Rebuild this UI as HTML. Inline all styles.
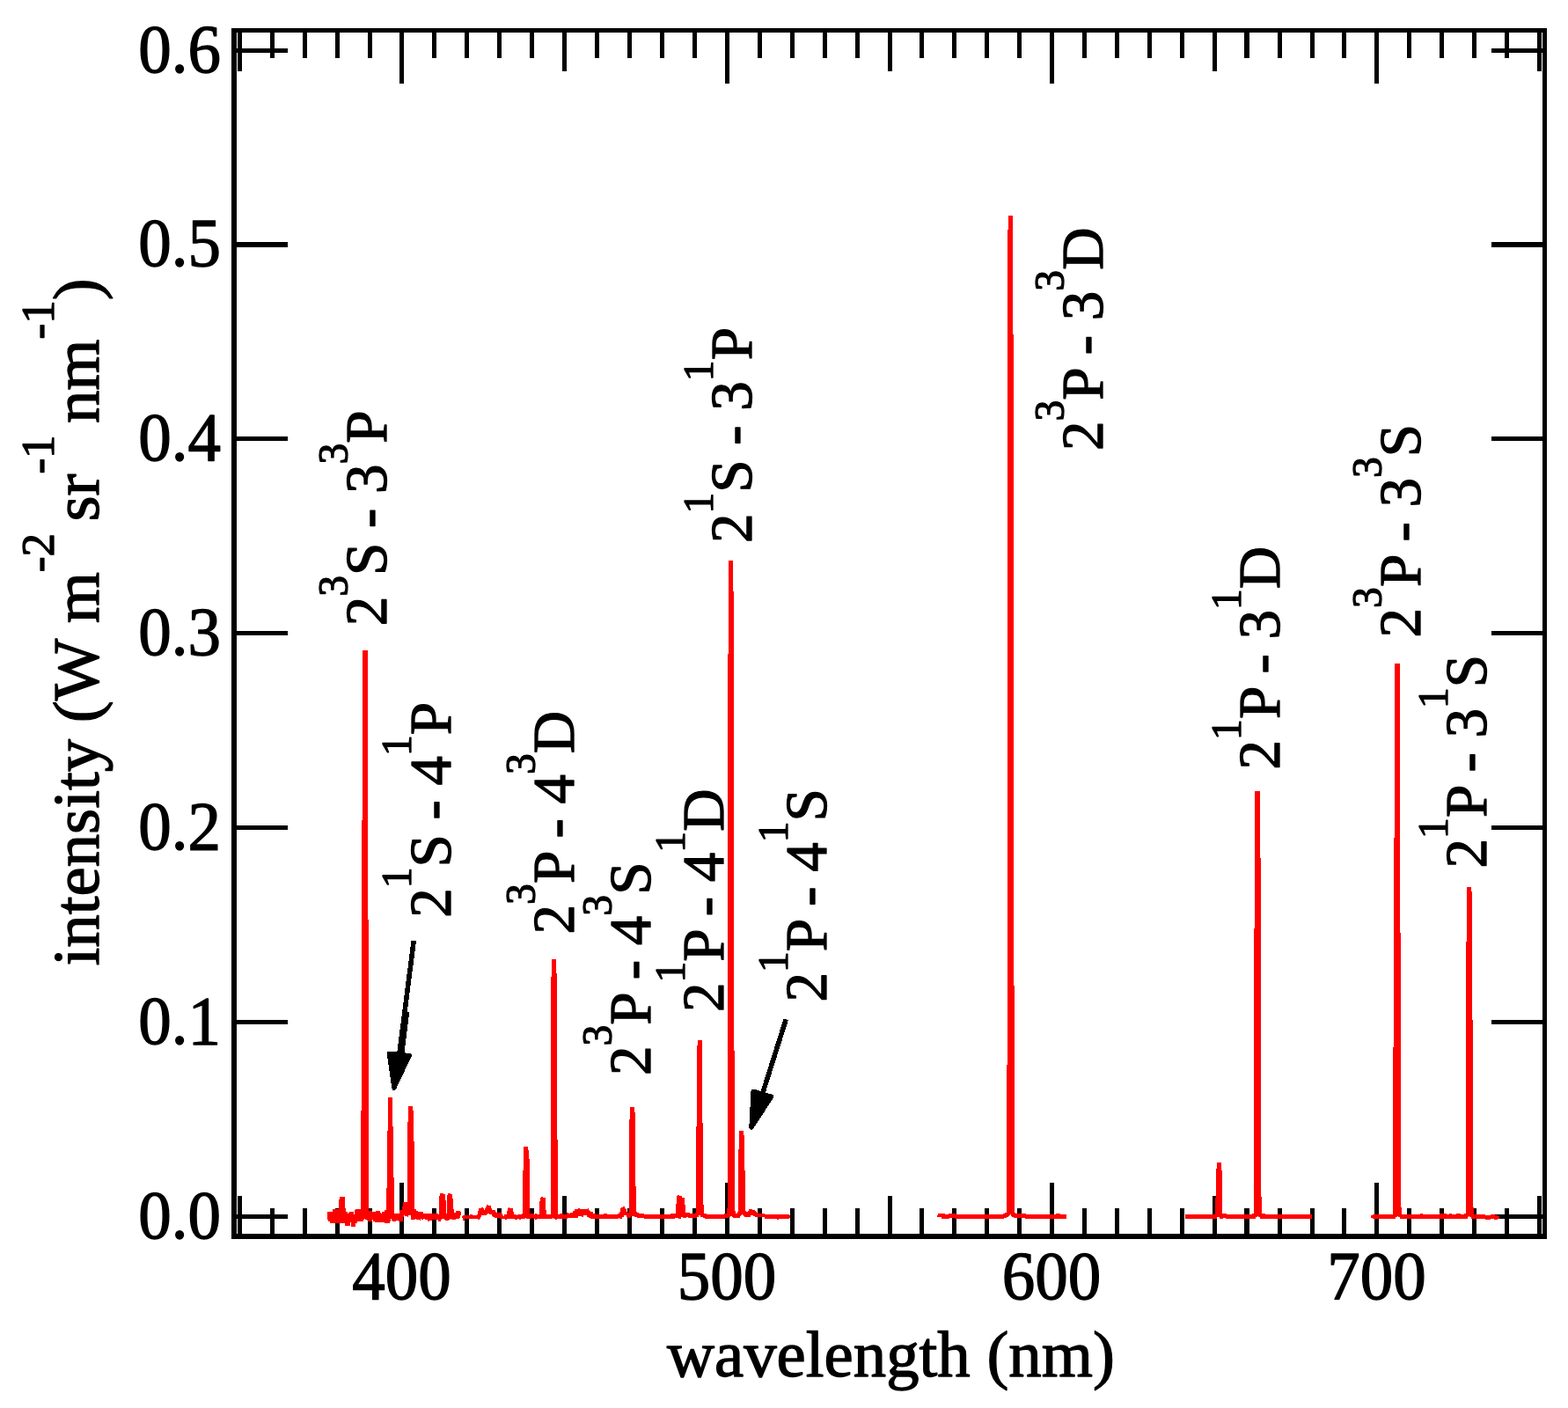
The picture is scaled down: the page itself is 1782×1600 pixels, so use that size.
<!DOCTYPE html>
<html lang="en">
<head>
<meta charset="utf-8">
<title>He I emission spectrum</title>
<style>
html,body{margin:0;padding:0;background:#fff;}
svg{display:block;}
text{font-family:"Liberation Serif", serif;fill:#000;stroke:#000;stroke-width:1.3px;stroke-linejoin:round;}
</style>
</head>
<body>
<svg width="1782" height="1600" viewBox="0 0 1782 1600">
<rect x="0" y="0" width="1782" height="1600" fill="#fff"/>
<g fill="#000" shape-rendering="crispEdges">
<rect x="263" y="32" width="6" height="1376"/>
<rect x="1753" y="32" width="5" height="1376"/>
<rect x="263" y="32" width="1495" height="5"/>
<rect x="263" y="1402" width="1495" height="6"/>
<rect x="270" y="34" width="5" height="47"/>
<rect x="270" y="1359" width="5" height="46"/>
<rect x="307" y="34" width="5" height="32"/>
<rect x="307" y="1373" width="5" height="32"/>
<rect x="344" y="34" width="5" height="32"/>
<rect x="344" y="1373" width="5" height="32"/>
<rect x="381" y="34" width="5" height="32"/>
<rect x="381" y="1373" width="5" height="32"/>
<rect x="418" y="34" width="5" height="32"/>
<rect x="418" y="1373" width="5" height="32"/>
<rect x="454" y="34" width="5" height="61"/>
<rect x="454" y="1344" width="5" height="61"/>
<rect x="491" y="34" width="5" height="32"/>
<rect x="491" y="1373" width="5" height="32"/>
<rect x="528" y="34" width="5" height="32"/>
<rect x="528" y="1373" width="5" height="32"/>
<rect x="565" y="34" width="5" height="32"/>
<rect x="565" y="1373" width="5" height="32"/>
<rect x="602" y="34" width="5" height="32"/>
<rect x="602" y="1373" width="5" height="32"/>
<rect x="639" y="34" width="5" height="47"/>
<rect x="639" y="1359" width="5" height="46"/>
<rect x="676" y="34" width="5" height="32"/>
<rect x="676" y="1373" width="5" height="32"/>
<rect x="713" y="34" width="5" height="32"/>
<rect x="713" y="1373" width="5" height="32"/>
<rect x="750" y="34" width="5" height="32"/>
<rect x="750" y="1373" width="5" height="32"/>
<rect x="787" y="34" width="5" height="32"/>
<rect x="787" y="1373" width="5" height="32"/>
<rect x="824" y="34" width="5" height="61"/>
<rect x="824" y="1344" width="5" height="61"/>
<rect x="861" y="34" width="5" height="32"/>
<rect x="861" y="1373" width="5" height="32"/>
<rect x="898" y="34" width="5" height="32"/>
<rect x="898" y="1373" width="5" height="32"/>
<rect x="935" y="34" width="5" height="32"/>
<rect x="935" y="1373" width="5" height="32"/>
<rect x="972" y="34" width="5" height="32"/>
<rect x="972" y="1373" width="5" height="32"/>
<rect x="1009" y="34" width="5" height="47"/>
<rect x="1009" y="1359" width="5" height="46"/>
<rect x="1045" y="34" width="5" height="32"/>
<rect x="1045" y="1373" width="5" height="32"/>
<rect x="1082" y="34" width="5" height="32"/>
<rect x="1082" y="1373" width="5" height="32"/>
<rect x="1119" y="34" width="5" height="32"/>
<rect x="1119" y="1373" width="5" height="32"/>
<rect x="1156" y="34" width="5" height="32"/>
<rect x="1156" y="1373" width="5" height="32"/>
<rect x="1193" y="34" width="5" height="61"/>
<rect x="1193" y="1344" width="5" height="61"/>
<rect x="1230" y="34" width="5" height="32"/>
<rect x="1230" y="1373" width="5" height="32"/>
<rect x="1267" y="34" width="5" height="32"/>
<rect x="1267" y="1373" width="5" height="32"/>
<rect x="1304" y="34" width="5" height="32"/>
<rect x="1304" y="1373" width="5" height="32"/>
<rect x="1341" y="34" width="5" height="32"/>
<rect x="1341" y="1373" width="5" height="32"/>
<rect x="1378" y="34" width="5" height="47"/>
<rect x="1378" y="1359" width="5" height="46"/>
<rect x="1414" y="34" width="6" height="32"/>
<rect x="1414" y="1373" width="6" height="32"/>
<rect x="1452" y="34" width="5" height="32"/>
<rect x="1452" y="1373" width="5" height="32"/>
<rect x="1489" y="34" width="5" height="32"/>
<rect x="1489" y="1373" width="5" height="32"/>
<rect x="1525" y="34" width="5" height="32"/>
<rect x="1525" y="1373" width="5" height="32"/>
<rect x="1562" y="34" width="5" height="61"/>
<rect x="1562" y="1344" width="5" height="61"/>
<rect x="1599" y="34" width="5" height="32"/>
<rect x="1599" y="1373" width="5" height="32"/>
<rect x="1636" y="34" width="5" height="32"/>
<rect x="1636" y="1373" width="5" height="32"/>
<rect x="1673" y="34" width="5" height="32"/>
<rect x="1673" y="1373" width="5" height="32"/>
<rect x="1710" y="34" width="5" height="32"/>
<rect x="1710" y="1373" width="5" height="32"/>
<rect x="1747" y="34" width="5" height="47"/>
<rect x="1747" y="1359" width="5" height="46"/>
<rect x="266" y="1380" width="61" height="5"/>
<rect x="1695" y="1380" width="61" height="5"/>
<rect x="266" y="1159" width="61" height="5"/>
<rect x="1695" y="1159" width="61" height="5"/>
<rect x="266" y="938" width="61" height="5"/>
<rect x="1695" y="938" width="61" height="5"/>
<rect x="266" y="717" width="61" height="5"/>
<rect x="1695" y="717" width="61" height="5"/>
<rect x="266" y="496" width="61" height="5"/>
<rect x="1695" y="496" width="61" height="5"/>
<rect x="266" y="275" width="61" height="6"/>
<rect x="1695" y="275" width="61" height="6"/>
<rect x="266" y="55" width="61" height="5"/>
<rect x="1695" y="55" width="61" height="5"/>
</g>
<g font-size="75.0">
<text transform="translate(251.0,1407.1) scale(1,1.03)" text-anchor="end">0.0</text>
<text transform="translate(251.0,1186.1) scale(1,1.03)" text-anchor="end">0.1</text>
<text transform="translate(251.0,965.1) scale(1,1.03)" text-anchor="end">0.2</text>
<text transform="translate(251.0,744.1) scale(1,1.03)" text-anchor="end">0.3</text>
<text transform="translate(251.0,523.1) scale(1,1.03)" text-anchor="end">0.4</text>
<text transform="translate(251.0,302.1) scale(1,1.03)" text-anchor="end">0.5</text>
<text transform="translate(251.0,82.1) scale(1,1.03)" text-anchor="end">0.6</text>
<text transform="translate(456.6,1476.2) scale(1,1.03)" text-anchor="middle">400</text>
<text transform="translate(825.9,1476.2) scale(1,1.03)" text-anchor="middle">500</text>
<text transform="translate(1195.1,1476.2) scale(1,1.03)" text-anchor="middle">600</text>
<text transform="translate(1564.4,1476.2) scale(1,1.03)" text-anchor="middle">700</text>
<text x="1012.4" y="1563.5" font-size="74.8" text-anchor="middle">wavelength (nm)</text>
<text font-size="74.8" transform="translate(111.5,1097.5) rotate(-90)">intensity (W m<tspan font-size="53.11" dy="-50.5">-2 </tspan><tspan dy="50.5">sr</tspan><tspan font-size="53.11" dy="-50.5">-1 </tspan><tspan dy="50.5">nm</tspan><tspan font-size="53.11" dy="-50.5">-1</tspan><tspan dy="50.5">)</tspan></text>
</g>
<g fill="#f00" stroke="none" shape-rendering="crispEdges">
<path d="M372 1377H378V1374H385V1363H386V1360H392V1373H393V1377H395V1379H396V1378H397V1377H402V1380H403V1375H404V1374H410V1262H411V932H412V739H418V1045H419V1376H423V1377H427V1376H432V1378H433V1379H434V1377H437V1375H439V1350H440V1285H441V1247H446V1280H447V1338H448V1379H454V1375H457V1371H458V1366H463V1275H464V1257H469V1262H470V1297H471V1374H473V1376H475V1377H481V1379H498V1380H499V1359H500V1356H504V1357H506V1364H507V1379H508V1358H509V1356H512V1357H514V1362H515V1374H516V1378H518V1376H523V1377H524V1381H523V1384H522V1385H518V1386H513V1385H512V1386H510V1387H506V1386H505V1385H502V1386H501V1388H498V1386H491V1387H488V1388H486V1386H483V1385H481V1386H479V1385H478V1387H477V1386H473V1385H472V1386H467V1381H464V1383H463V1382H460V1381H459V1383H458V1388H453V1387H450V1388H446V1387H445V1385H444V1388H443V1390H437V1389H426V1388H424V1386H423V1388H418V1387H417V1386H415V1385H414V1386H413V1388H406V1390H404V1394H399V1389H398V1393H392V1390H375V1388H373V1386H372Z"/>
<path d="M525 1382H526V1381H534V1380H537V1381H542V1380H543V1376H544V1373H547V1372H549V1373H550V1375H551V1373H552V1371H553V1369H555V1370H558V1373H559V1375H563V1377H564V1378H570V1379H571V1381H572V1382H573V1380H576V1376H577V1373H578V1372H579V1373H583V1377H584V1380H587V1381H588V1380H593V1379H594V1330H595V1303H600V1307H601V1317H602V1379H607V1380H608V1379H610V1380H613V1365H614V1361H615V1360H617V1361H620V1375H621V1380H626V1110H627V1090H632V1106H633V1295H634V1380H636V1379H640V1380H644V1378H646V1379H648V1378H651V1376H653V1374H657V1373H659V1374H668V1373H669V1375H670V1376H671V1377H674V1379H677V1380H686V1379H690V1380H702V1379H704V1377H705V1373H706V1372H708V1371H710V1373H711V1374H712V1377H713V1378H715V1272H716V1258H721V1264H722V1348H723V1377H724V1378H726V1379H732V1380H762V1379H768V1368H769V1359H770V1358H772V1359H775V1361H778V1369H779V1378H784V1379H790V1378H791V1280H792V1188H793V1182H798V1276H799V1369H800V1379H803V1380H823V1379H826V1373H827V743H828V637H833V672H834V1194H835V1376H836V1379H838V1377H839V1306H840V1285H845V1290H846V1330H847V1376H848V1377H850V1376H851V1374H855V1375H858V1376H859V1377H860V1378H862V1379H869V1380H897V1381H898V1384H897V1385H885V1386H883V1385H869V1383H858V1382H856V1381H853V1383H846V1382H845V1381H844V1380H843V1381H842V1382H841V1384H833V1383H832V1382H830V1383H828V1384H824V1385H801V1384H799V1383H796V1381H794V1383H792V1384H782V1383H780V1384H776V1383H774V1385H771V1384H767V1385H732V1384H724V1383H721V1382H717V1384H714V1383H712V1381H709V1383H707V1385H704V1384H703V1385H671V1384H669V1383H667V1381H663V1383H661V1382H657V1384H645V1385H633V1386H631V1385H629V1384H628V1385H610V1386H608V1385H606V1384H604V1385H598V1384H597V1385H592V1386H590V1385H588V1386H585V1385H576V1386H574V1385H568V1384H562V1383H560V1382H559V1380H556V1379H554V1380H553V1381H547V1383H546V1385H545V1386H543V1385H528V1387H526V1384H525Z"/>
<path d="M1065 1381H1066V1379H1074V1380H1078V1379H1086V1380H1140V1379H1142V1378H1144V1210H1145V261H1146V245H1151V380H1152V1120H1153V1378H1154V1379H1166V1380H1200V1379H1205V1380H1212V1385H1165V1384H1152V1383H1150V1382H1149V1380H1148V1381H1147V1382H1146V1383H1144V1384H1141V1385H1085V1384H1079V1385H1070V1383H1065Z"/>
<path d="M1347 1380H1381V1361H1382V1328H1383V1321H1388V1330H1389V1379H1394V1380H1423V1379H1425V1055H1426V899H1432V975H1433V1360H1434V1379H1438V1380H1491V1385H1432V1383H1430V1382H1429V1383H1427V1385H1393V1384H1390V1385H1386V1383H1383V1385H1347Z"/>
<path d="M1558 1381H1560V1380H1583V1190H1584V952H1585V754H1591V1060H1592V1372H1593V1380H1614V1379H1617V1380H1636V1379H1644V1380H1647V1379H1650V1380H1655V1379H1660V1380H1664V1379H1666V1070H1667V1008H1672V1013H1673V1159H1674V1372H1675V1380H1688V1381H1694V1380H1699V1381H1702V1382H1704V1385H1702V1386H1698V1385H1694V1386H1688V1385H1672V1383H1670V1382H1669V1383H1668V1385H1591V1383H1589V1382H1588V1383H1586V1385H1560V1384H1558Z"/>
</g>
<g shape-rendering="crispEdges">
<line x1="470.2" y1="1069.0" x2="453.8" y2="1198.3" stroke="#000" stroke-width="5.6"/><polygon points="457.1,1150.3 465.2,1150.3 459.5,1196 451.8,1196" fill="#000"/><polygon points="447.8,1236.5 442.3,1197.2 465.3,1199.5" fill="#000" stroke="#000" stroke-width="5" stroke-linejoin="round"/>
<line x1="893.3" y1="1158.2" x2="866.5" y2="1243.1" stroke="#000" stroke-width="5.6"/><polygon points="853.8,1281.2 856.0,1240.0 877.0,1246.2" fill="#000" stroke="#000" stroke-width="5" stroke-linejoin="round"/>
</g>
<g>
<text font-size="67.0" transform="translate(439.1,711.3) rotate(-90)">2<tspan font-size="47.57" dy="-44.5">3</tspan><tspan dy="44.5">S - 3</tspan><tspan font-size="47.57" dy="-44.5">3</tspan><tspan dy="44.5">P</tspan></text>
<text font-size="67.0" transform="translate(511.9,1042.8) rotate(-90)">2<tspan font-size="47.57" dy="-44.5">1</tspan><tspan dy="44.5">S - 4</tspan><tspan font-size="47.57" dy="-44.5">1</tspan><tspan dy="44.5">P</tspan></text>
<text font-size="67.0" transform="translate(652.0,1061.4) rotate(-90)">2<tspan font-size="47.57" dy="-44.5">3</tspan><tspan dy="44.5">P - 4</tspan><tspan font-size="47.57" dy="-44.5">3</tspan><tspan dy="44.5">D</tspan></text>
<text font-size="67.0" transform="translate(739.0,1222.0) rotate(-90)">2<tspan font-size="47.57" dy="-44.5">3</tspan><tspan dy="44.5">P - 4</tspan><tspan font-size="47.57" dy="-44.5">3</tspan><tspan dy="44.5">S</tspan></text>
<text font-size="67.0" transform="translate(822.0,1150.0) rotate(-90)">2<tspan font-size="47.57" dy="-44.5">1</tspan><tspan dy="44.5">P - 4</tspan><tspan font-size="47.57" dy="-44.5">1</tspan><tspan dy="44.5">D</tspan></text>
<text font-size="67.0" transform="translate(854.0,617.0) rotate(-90)">2<tspan font-size="47.57" dy="-44.5">1</tspan><tspan dy="44.5">S - 3</tspan><tspan font-size="47.57" dy="-44.5">1</tspan><tspan dy="44.5">P</tspan></text>
<text font-size="67.0" transform="translate(939.0,1138.6) rotate(-90)">2<tspan font-size="47.57" dy="-44.5">1</tspan><tspan dy="44.5">P - 4</tspan><tspan font-size="47.57" dy="-44.5">1</tspan><tspan dy="44.5">S</tspan></text>
<text font-size="67.0" transform="translate(1253.0,512.0) rotate(-90)">2<tspan font-size="47.57" dy="-44.5">3</tspan><tspan dy="44.5">P - 3</tspan><tspan font-size="47.57" dy="-44.5">3</tspan><tspan dy="44.5">D</tspan></text>
<text font-size="67.0" transform="translate(1454.0,874.4) rotate(-90)">2<tspan font-size="47.57" dy="-44.5">1</tspan><tspan dy="44.5">P - 3</tspan><tspan font-size="47.57" dy="-44.5">1</tspan><tspan dy="44.5">D</tspan></text>
<text font-size="67.0" transform="translate(1614.4,724.4) rotate(-90)">2<tspan font-size="47.57" dy="-44.5">3</tspan><tspan dy="44.5">P - 3</tspan><tspan font-size="47.57" dy="-44.5">3</tspan><tspan dy="44.5">S</tspan></text>
<text font-size="67.0" transform="translate(1689.0,986.4) rotate(-90)">2<tspan font-size="47.57" dy="-44.5">1</tspan><tspan dy="44.5">P - 3</tspan><tspan font-size="47.57" dy="-44.5">1</tspan><tspan dy="44.5">S</tspan></text>
</g>
</svg>
</body>
</html>
